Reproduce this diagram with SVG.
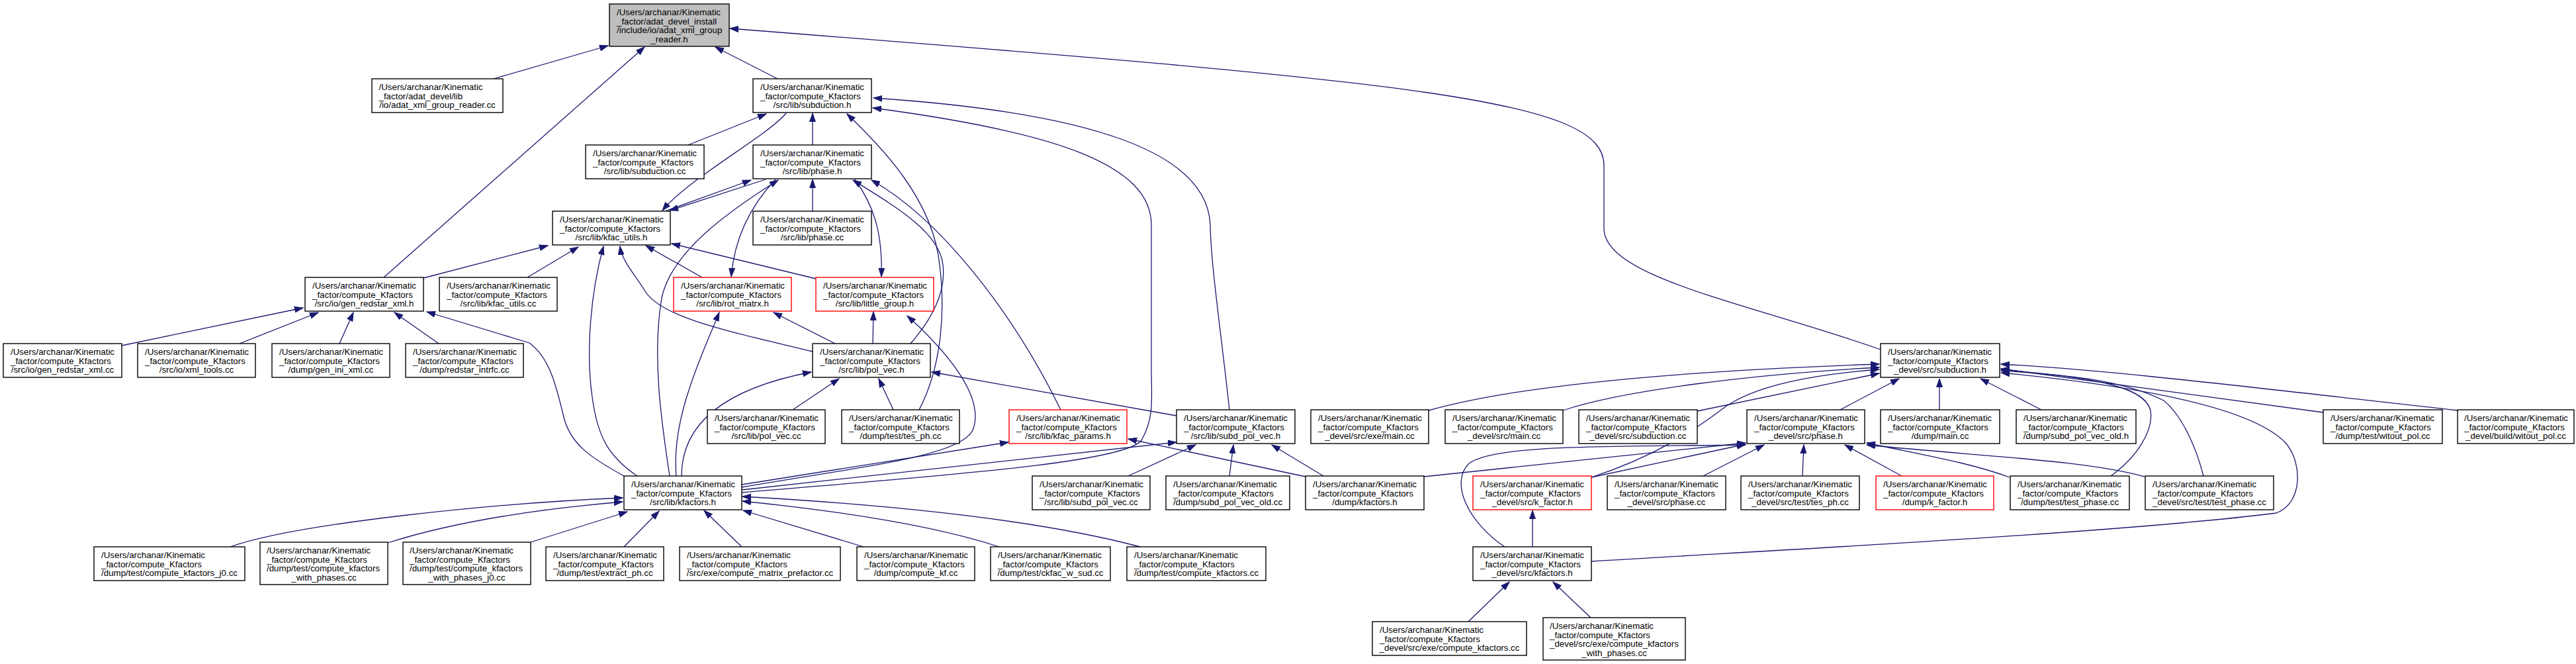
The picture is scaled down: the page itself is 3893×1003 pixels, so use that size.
<svg xmlns="http://www.w3.org/2000/svg" width="3893" height="1003" viewBox="0 0 3893 1003">
<defs>
<marker id="ah" viewBox="0 0 14 10" refX="13" refY="5" markerWidth="14" markerHeight="10" markerUnits="userSpaceOnUse" orient="auto"><path d="M0,0.5 L13,5 L0,9.5 z" fill="#191970" stroke="#191970" stroke-width="1"/></marker>
</defs>
<style>
.n rect{fill:#fff;stroke:#000;stroke-width:1.4}
.r rect{stroke:#f00}
.g rect{fill:#bfbfbf}
text{font-family:"Liberation Sans",Arial,Helvetica,sans-serif;font-size:13.33px;fill:#000}
.c{text-anchor:middle}
#edges path{fill:none;stroke:#191970;stroke-width:1.3;marker-end:url(#ah)}
</style>
<rect width="3893" height="1003" fill="#fff"/>
<g id="edges">
<path d="M746,119 L919,69"/>
<path d="M580,419 L974,71"/>
<path d="M1175,119 L1081,71"/>
<path d="M2842,528 C2650,460 2424,420 2424,345 L2424,250 C2424,150 2150,125 1103,43"/>
<path d="M1040,219 L1158,172"/>
<path d="M1228,219 L1228,171"/>
<path d="M1188,171 C1160,205 1040,270 1001,318"/>
<path d="M1005,319 L1135,272"/>
<path d="M1157,271 L1012,318"/>
<path d="M1012,719 C1000,640 985,540 1000,450 C1015,380 1100,320 1176,272"/>
<path d="M1172,271 C1135,310 1110,360 1105,418"/>
<path d="M1061,419 L976,371"/>
<path d="M1233,421 L1015,368"/>
<path d="M1292,271 C1320,310 1334,350 1332,418"/>
<path d="M1376,519 C1410,480 1430,440 1425,400 C1420,350 1350,310 1289,272"/>
<path d="M1389,619 C1420,560 1430,480 1420,400 C1410,300 1330,220 1280,172"/>
<path d="M1603,619 C1530,470 1420,330 1317,272"/>
<path d="M1319,519 L1320,471"/>
<path d="M1262,519 L1169,472"/>
<path d="M1228,531 C1100,500 1000,480 975,440 C960,415 940,395 937,372"/>
<path d="M1022,719 C1015,640 1050,560 1087,472"/>
<path d="M1030,719 C1030,650 1080,590 1226,562"/>
<path d="M943,719 C890,690 862,670 852,630 C840,580 830,540 800,518 L645,471"/>
<path d="M963,719 C920,690 903,660 895,600 C885,530 893,440 912,372"/>
<path d="M184,522 L458,465"/>
<path d="M362,519 L481,472"/>
<path d="M513,519 L534,472"/>
<path d="M663,519 L596,472"/>
<path d="M640,420 L828,371"/>
<path d="M797,419 L874,373"/>
<path d="M348,826 C450,790 750,760 941,752"/>
<path d="M586,820 C680,790 800,770 941,758"/>
<path d="M802,819 L948,773"/>
<path d="M943,826 L996,772"/>
<path d="M1121,826 L1064,771"/>
<path d="M1305,826 L1123,771"/>
<path d="M1510,826 C1400,790 1250,770 1122,757"/>
<path d="M1723,826 C1550,780 1300,760 1122,750"/>
<path d="M1121,732 L1524,668"/>
<path d="M1121,736 C1300,705 1450,690 1470,650 C1490,600 1430,530 1371,477"/>
<path d="M1121,740 L1778,668"/>
<path d="M1121,744 C1400,720 1700,700 1725,665 C1745,630 1740,600 1740,560 L1740,340 C1740,250 1600,200 1319,163"/>
<path d="M1858,619 C1845,500 1830,400 1829,340 C1825,230 1650,170 1320,148"/>
<path d="M1778,628 L1408,562"/>
<path d="M1973,720 L1705,663"/>
<path d="M2000,719 L1922,672"/>
<path d="M2152,720 L2638,669"/>
<path d="M1198,619 L1268,572"/>
<path d="M1350,619 L1328,572"/>
<path d="M1228,319 L1228,271"/>
<path d="M1705,719 L1807,672"/>
<path d="M1858,719 L1864,672"/>
<path d="M2159,620 C2300,580 2550,560 2840,550"/>
<path d="M2362,620 C2450,590 2650,565 2840,555"/>
<path d="M2565,621 L2840,564"/>
<path d="M2405,721 C2500,690 2560,650 2600,620 C2650,580 2750,565 2840,558"/>
<path d="M2781,619 L2870,572"/>
<path d="M2931,619 L2931,572"/>
<path d="M3085,619 L2993,572"/>
<path d="M3511,623 L3024,557"/>
<path d="M3715,620 C3400,585 3200,560 3024,550"/>
<path d="M3190,719 C3230,690 3255,650 3250,620 C3240,580 3150,570 3024,558"/>
<path d="M3330,719 C3320,680 3300,630 3270,605 C3200,570 3100,565 3024,560"/>
<path d="M2405,848 C2700,830 3200,805 3440,775 C3480,760 3480,700 3455,670 C3400,610 3200,580 3024,563"/>
<path d="M2574,719 L2666,672"/>
<path d="M2724,719 L2726,672"/>
<path d="M2874,719 L2788,672"/>
<path d="M3037,721 C2980,700 2920,690 2821,669"/>
<path d="M3241,720 C3150,695 3000,690 2821,672"/>
<path d="M2405,721 L2638,671"/>
<path d="M2274,826 C2220,790 2190,730 2220,700 C2260,670 2450,675 2638,672"/>
<path d="M2316,826 L2316,771"/>
<path d="M2219,939 L2281,879"/>
<path d="M2404,933 L2347,879"/>
</g>
<g id="n_root" class="n g"><rect x="921" y="6" width="181" height="64"/><text x="932" y="23">/Users/archanar/Kinematic</text><text x="932" y="36.5">_factor/adat_devel_install</text><text x="932" y="50">/include/io/adat_xml_group</text><text class="c" x="1011.5" y="63.5">_reader.h</text></g>
<g id="n_adatcc" class="n"><rect x="562" y="119" width="198" height="51"/><text x="572.5" y="136">/Users/archanar/Kinematic</text><text x="572.5" y="149.5">_factor/adat_devel/lib</text><text class="c" x="661" y="163">/io/adat_xml_group_reader.cc</text></g>
<g id="n_subh" class="n"><rect x="1138" y="119" width="179" height="51"/><text x="1149" y="136">/Users/archanar/Kinematic</text><text x="1149" y="149.5">_factor/compute_Kfactors</text><text class="c" x="1227.5" y="163">/src/lib/subduction.h</text></g>
<g id="n_subcc" class="n"><rect x="885" y="219" width="179" height="51"/><text x="896" y="236">/Users/archanar/Kinematic</text><text x="896" y="249.5">_factor/compute_Kfactors</text><text class="c" x="974.5" y="263">/src/lib/subduction.cc</text></g>
<g id="n_phaseh" class="n"><rect x="1138" y="219" width="179" height="51"/><text x="1149" y="236">/Users/archanar/Kinematic</text><text x="1149" y="249.5">_factor/compute_Kfactors</text><text class="c" x="1227.5" y="263">/src/lib/phase.h</text></g>
<g id="n_kfuh" class="n"><rect x="835" y="319" width="178" height="51"/><text x="846" y="336">/Users/archanar/Kinematic</text><text x="846" y="349.5">_factor/compute_Kfactors</text><text class="c" x="924" y="363">/src/lib/kfac_utils.h</text></g>
<g id="n_phasecc" class="n"><rect x="1138" y="319" width="179" height="51"/><text x="1149" y="336">/Users/archanar/Kinematic</text><text x="1149" y="349.5">_factor/compute_Kfactors</text><text class="c" x="1227.5" y="363">/src/lib/phase.cc</text></g>
<g id="n_genh" class="n"><rect x="461" y="419" width="179" height="51"/><text x="472" y="436">/Users/archanar/Kinematic</text><text x="472" y="449.5">_factor/compute_Kfactors</text><text class="c" x="550.5" y="463">/src/io/gen_redstar_xml.h</text></g>
<g id="n_kfucc" class="n"><rect x="664" y="419" width="178" height="51"/><text x="675" y="436">/Users/archanar/Kinematic</text><text x="675" y="449.5">_factor/compute_Kfactors</text><text class="c" x="753" y="463">/src/lib/kfac_utils.cc</text></g>
<g id="n_rot" class="n r"><rect x="1018" y="419" width="178" height="51"/><text x="1029" y="436">/Users/archanar/Kinematic</text><text x="1029" y="449.5">_factor/compute_Kfactors</text><text class="c" x="1107" y="463">/src/lib/rot_matrx.h</text></g>
<g id="n_lg" class="n r"><rect x="1233" y="419" width="178" height="51"/><text x="1244" y="436">/Users/archanar/Kinematic</text><text x="1244" y="449.5">_factor/compute_Kfactors</text><text class="c" x="1322" y="463">/src/lib/little_group.h</text></g>
<g id="n_gencc" class="n"><rect x="5" y="519" width="179" height="51"/><text x="16" y="536">/Users/archanar/Kinematic</text><text x="16" y="549.5">_factor/compute_Kfactors</text><text class="c" x="94.5" y="563">/src/io/gen_redstar_xml.cc</text></g>
<g id="n_xmlcc" class="n"><rect x="208" y="519" width="178" height="51"/><text x="219" y="536">/Users/archanar/Kinematic</text><text x="219" y="549.5">_factor/compute_Kfactors</text><text class="c" x="297" y="563">/src/io/xml_tools.cc</text></g>
<g id="n_ini" class="n"><rect x="411" y="519" width="178" height="51"/><text x="422" y="536">/Users/archanar/Kinematic</text><text x="422" y="549.5">_factor/compute_Kfactors</text><text class="c" x="500" y="563">/dump/gen_ini_xml.cc</text></g>
<g id="n_redstar" class="n"><rect x="613" y="519" width="178" height="51"/><text x="624" y="536">/Users/archanar/Kinematic</text><text x="624" y="549.5">_factor/compute_Kfactors</text><text class="c" x="702" y="563">/dump/redstar_intrfc.cc</text></g>
<g id="n_polh" class="n"><rect x="1228" y="519" width="178" height="51"/><text x="1239" y="536">/Users/archanar/Kinematic</text><text x="1239" y="549.5">_factor/compute_Kfactors</text><text class="c" x="1317" y="563">/src/lib/pol_vec.h</text></g>
<g id="n_dsub" class="n"><rect x="2842" y="519" width="180" height="51"/><text x="2853" y="536">/Users/archanar/Kinematic</text><text x="2853" y="549.5">_factor/compute_Kfactors</text><text class="c" x="2932" y="563">_devel/src/subduction.h</text></g>
<g id="n_polcc" class="n"><rect x="1069" y="619" width="178" height="51"/><text x="1080" y="636">/Users/archanar/Kinematic</text><text x="1080" y="649.5">_factor/compute_Kfactors</text><text class="c" x="1158" y="663">/src/lib/pol_vec.cc</text></g>
<g id="n_tesph" class="n"><rect x="1272" y="619" width="178" height="51"/><text x="1283" y="636">/Users/archanar/Kinematic</text><text x="1283" y="649.5">_factor/compute_Kfactors</text><text class="c" x="1361" y="663">/dump/test/tes_ph.cc</text></g>
<g id="n_kfp" class="n r"><rect x="1525" y="619" width="178" height="51"/><text x="1536" y="636">/Users/archanar/Kinematic</text><text x="1536" y="649.5">_factor/compute_Kfactors</text><text class="c" x="1614" y="663">/src/lib/kfac_params.h</text></g>
<g id="n_sdph" class="n"><rect x="1778" y="619" width="179" height="51"/><text x="1789" y="636">/Users/archanar/Kinematic</text><text x="1789" y="649.5">_factor/compute_Kfactors</text><text class="c" x="1867.5" y="663">/src/lib/subd_pol_vec.h</text></g>
<g id="n_dexemain" class="n"><rect x="1981" y="619" width="178" height="51"/><text x="1992" y="636">/Users/archanar/Kinematic</text><text x="1992" y="649.5">_factor/compute_Kfactors</text><text class="c" x="2070" y="663">_devel/src/exe/main.cc</text></g>
<g id="n_dmain" class="n"><rect x="2184" y="619" width="178" height="51"/><text x="2195" y="636">/Users/archanar/Kinematic</text><text x="2195" y="649.5">_factor/compute_Kfactors</text><text class="c" x="2273" y="663">_devel/src/main.cc</text></g>
<g id="n_dsubcc" class="n"><rect x="2386" y="619" width="179" height="51"/><text x="2397" y="636">/Users/archanar/Kinematic</text><text x="2397" y="649.5">_factor/compute_Kfactors</text><text class="c" x="2475.5" y="663">_devel/src/subduction.cc</text></g>
<g id="n_dphaseh" class="n"><rect x="2640" y="619" width="178" height="51"/><text x="2651" y="636">/Users/archanar/Kinematic</text><text x="2651" y="649.5">_factor/compute_Kfactors</text><text class="c" x="2729" y="663">_devel/src/phase.h</text></g>
<g id="n_dumpmain" class="n"><rect x="2842" y="619" width="180" height="51"/><text x="2853" y="636">/Users/archanar/Kinematic</text><text x="2853" y="649.5">_factor/compute_Kfactors</text><text class="c" x="2932" y="663">/dump/main.cc</text></g>
<g id="n_sdpvoldh" class="n"><rect x="3047" y="619" width="181" height="51"/><text x="3058" y="636">/Users/archanar/Kinematic</text><text x="3058" y="649.5">_factor/compute_Kfactors</text><text class="c" x="3137.5" y="663">/dump/subd_pol_vec_old.h</text></g>
<g id="n_witout1" class="n"><rect x="3511" y="619" width="180" height="51"/><text x="3522" y="636">/Users/archanar/Kinematic</text><text x="3522" y="649.5">_factor/compute_Kfactors</text><text class="c" x="3601" y="663">/dump/test/witout_pol.cc</text></g>
<g id="n_witout2" class="n"><rect x="3714" y="619" width="176" height="51"/><text x="3724" y="636">/Users/archanar/Kinematic</text><text x="3724" y="649.5">_factor/compute_Kfactors</text><text class="c" x="3802" y="663">_devel/build/witout_pol.cc</text></g>
<g id="n_kfh" class="n"><rect x="943" y="719" width="178" height="51"/><text x="954" y="736">/Users/archanar/Kinematic</text><text x="954" y="749.5">_factor/compute_Kfactors</text><text class="c" x="1032" y="763">/src/lib/kfactors.h</text></g>
<g id="n_sdpcc" class="n"><rect x="1560" y="719" width="178" height="51"/><text x="1571" y="736">/Users/archanar/Kinematic</text><text x="1571" y="749.5">_factor/compute_Kfactors</text><text class="c" x="1649" y="763">/src/lib/subd_pol_vec.cc</text></g>
<g id="n_sdpvoldcc" class="n"><rect x="1762" y="719" width="187" height="51"/><text x="1773" y="736">/Users/archanar/Kinematic</text><text x="1773" y="749.5">_factor/compute_Kfactors</text><text class="c" x="1855.5" y="763">/dump/subd_pol_vec_old.cc</text></g>
<g id="n_dumpkfh" class="n"><rect x="1973" y="719" width="179" height="51"/><text x="1984" y="736">/Users/archanar/Kinematic</text><text x="1984" y="749.5">_factor/compute_Kfactors</text><text class="c" x="2062.5" y="763">/dump/kfactors.h</text></g>
<g id="n_dkfactor" class="n r"><rect x="2226" y="719" width="179" height="51"/><text x="2237" y="736">/Users/archanar/Kinematic</text><text x="2237" y="749.5">_factor/compute_Kfactors</text><text class="c" x="2315.5" y="763">_devel/src/k_factor.h</text></g>
<g id="n_dphasecc" class="n"><rect x="2429" y="719" width="179" height="51"/><text x="2440" y="736">/Users/archanar/Kinematic</text><text x="2440" y="749.5">_factor/compute_Kfactors</text><text class="c" x="2518.5" y="763">_devel/src/phase.cc</text></g>
<g id="n_dtesph" class="n"><rect x="2631" y="719" width="179" height="51"/><text x="2642" y="736">/Users/archanar/Kinematic</text><text x="2642" y="749.5">_factor/compute_Kfactors</text><text class="c" x="2720.5" y="763">_devel/src/test/tes_ph.cc</text></g>
<g id="n_dumpkfactor" class="n r"><rect x="2835" y="719" width="178" height="51"/><text x="2846" y="736">/Users/archanar/Kinematic</text><text x="2846" y="749.5">_factor/compute_Kfactors</text><text class="c" x="2924" y="763">/dump/k_factor.h</text></g>
<g id="n_testphase" class="n"><rect x="3038" y="719" width="180" height="51"/><text x="3049" y="736">/Users/archanar/Kinematic</text><text x="3049" y="749.5">_factor/compute_Kfactors</text><text class="c" x="3128" y="763">/dump/test/test_phase.cc</text></g>
<g id="n_dtestphase" class="n"><rect x="3242" y="719" width="194" height="51"/><text x="3253" y="736">/Users/archanar/Kinematic</text><text x="3253" y="749.5">_factor/compute_Kfactors</text><text class="c" x="3339" y="763">_devel/src/test/test_phase.cc</text></g>
<g id="n_j0" class="n"><rect x="142" y="826" width="228" height="51"/><text x="153" y="843">/Users/archanar/Kinematic</text><text x="153" y="856.5">_factor/compute_Kfactors</text><text class="c" x="256" y="870">/dump/test/compute_kfactors_j0.cc</text></g>
<g id="n_wp" class="n"><rect x="393" y="819" width="193" height="64"/><text x="403" y="836">/Users/archanar/Kinematic</text><text x="403" y="849.5">_factor/compute_Kfactors</text><text x="403" y="863">/dump/test/compute_kfactors</text><text class="c" x="489.5" y="876.5">_with_phases.cc</text></g>
<g id="n_wpj0" class="n"><rect x="609" y="819" width="193" height="64"/><text x="619" y="836">/Users/archanar/Kinematic</text><text x="619" y="849.5">_factor/compute_Kfactors</text><text x="619" y="863">/dump/test/compute_kfactors</text><text class="c" x="705.5" y="876.5">_with_phases_j0.cc</text></g>
<g id="n_extract" class="n"><rect x="825" y="826" width="178" height="51"/><text x="836" y="843">/Users/archanar/Kinematic</text><text x="836" y="856.5">_factor/compute_Kfactors</text><text class="c" x="914" y="870">/dump/test/extract_ph.cc</text></g>
<g id="n_prefactor" class="n"><rect x="1027" y="826" width="243" height="51"/><text x="1038" y="843">/Users/archanar/Kinematic</text><text x="1038" y="856.5">_factor/compute_Kfactors</text><text class="c" x="1148.5" y="870">/src/exe/compute_matrix_prefactor.cc</text></g>
<g id="n_kf" class="n"><rect x="1295" y="826" width="178" height="51"/><text x="1306" y="843">/Users/archanar/Kinematic</text><text x="1306" y="856.5">_factor/compute_Kfactors</text><text class="c" x="1384" y="870">/dump/compute_kf.cc</text></g>
<g id="n_ckfac" class="n"><rect x="1497" y="826" width="181" height="51"/><text x="1508" y="843">/Users/archanar/Kinematic</text><text x="1508" y="856.5">_factor/compute_Kfactors</text><text class="c" x="1587.5" y="870">/dump/test/ckfac_w_sud.cc</text></g>
<g id="n_ckf" class="n"><rect x="1703" y="826" width="210" height="51"/><text x="1714" y="843">/Users/archanar/Kinematic</text><text x="1714" y="856.5">_factor/compute_Kfactors</text><text class="c" x="1808" y="870">/dump/test/compute_kfactors.cc</text></g>
<g id="n_dkfh" class="n"><rect x="2226" y="826" width="179" height="51"/><text x="2237" y="843">/Users/archanar/Kinematic</text><text x="2237" y="856.5">_factor/compute_Kfactors</text><text class="c" x="2315.5" y="870">_devel/src/kfactors.h</text></g>
<g id="n_dckf" class="n"><rect x="2074" y="939" width="233" height="51"/><text x="2085" y="956">/Users/archanar/Kinematic</text><text x="2085" y="969.5">_factor/compute_Kfactors</text><text class="c" x="2190.5" y="983">_devel/src/exe/compute_kfactors.cc</text></g>
<g id="n_dckfwp" class="n"><rect x="2332" y="933" width="215" height="64"/><text x="2342" y="950">/Users/archanar/Kinematic</text><text x="2342" y="963.5">_factor/compute_Kfactors</text><text x="2342" y="977">_devel/src/exe/compute_kfactors</text><text class="c" x="2439.5" y="990.5">_with_phases.cc</text></g>
</svg>
